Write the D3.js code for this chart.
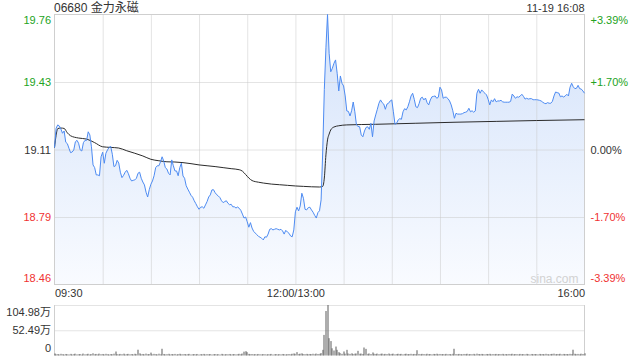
<!DOCTYPE html>
<html>
<head>
<meta charset="utf-8">
<script src="https://cdn.jsdelivr.net/npm/d3@7"></script>
<style>
body { margin: 0; background: #fff; }
text { font-family: "Liberation Sans", Arial, "Noto Sans CJK SC", sans-serif; }
</style>
</head>
<body>
<script>
// minute index: 0 = 09:30, 150 = 12:00/13:00, 330 = 16:00
var title = "06680 金力永磁";
var stamp = "11-19 16:08";
var prevClose = 19.112;

var priceTicks = [19.76, 19.436, 19.112, 18.788, 18.464];
var priceTickLabels = ["19.76", "19.43", "19.11", "18.79", "18.46"];
var pctTickLabels = ["+3.39%", "+1.70%", "0.00%", "-1.70%", "-3.39%"];
var timeTicks = [0, 150, 330];
var timeTickLabels = ["09:30", "12:00/13:00", "16:00"];
var gridMinutes = [30, 60, 90, 120, 150, 180, 210, 240, 270, 300];
var volTicks = [104.98, 52.49, 0];
var volTickLabels = ["104.98万", "52.49万", "0"];

var price = [
 19.121,19.214,19.230,19.225,19.210,19.190,19.201,19.147,19.140,19.118,
 19.097,19.100,19.110,19.149,19.156,19.142,19.110,19.105,19.145,19.156,
 19.156,19.197,19.182,19.125,19.038,19.025,18.990,18.990,18.986,19.077,
 19.099,19.046,19.094,19.110,19.122,19.127,19.089,19.030,19.034,19.060,
 19.047,19.003,18.977,18.988,19.003,19.012,18.996,18.974,18.961,18.964,
 18.966,18.974,18.998,19.003,18.974,18.956,18.942,18.907,18.884,18.919,
 18.945,18.961,18.986,19.025,19.034,19.034,19.053,19.077,19.057,19.025,
 19.018,18.998,18.990,19.062,19.034,19.009,19.009,18.986,19.025,19.046,
 18.985,18.974,18.938,18.922,18.907,18.892,18.883,18.866,18.852,18.837,
 18.825,18.835,18.837,18.830,18.846,18.862,18.884,18.894,18.918,18.919,
 18.905,18.895,18.889,18.881,18.866,18.857,18.862,18.866,18.854,18.847,
 18.849,18.837,18.837,18.831,18.836,18.830,18.820,18.802,18.783,18.788,
 18.765,18.739,18.761,18.735,18.719,18.711,18.703,18.695,18.691,18.686,
 18.678,18.693,18.691,18.706,18.729,18.732,18.726,18.729,18.732,18.729,
 18.726,18.729,18.721,18.706,18.724,18.716,18.710,18.697,18.693,18.726,
 18.813,18.835,18.817,18.841,18.902,18.878,18.825,18.822,18.833,18.835,
 18.822,18.811,18.796,18.783,18.809,18.818,18.870,19.100,19.400,19.600,
 19.760,19.574,19.485,19.502,19.526,19.542,19.478,19.393,19.465,19.430,
 19.417,19.369,19.297,19.295,19.273,19.298,19.340,19.293,19.230,19.223,
 19.221,19.182,19.173,19.201,19.218,19.221,19.209,19.238,19.173,19.249,
 19.278,19.305,19.334,19.350,19.337,19.330,19.305,19.330,19.334,19.345,
 19.350,19.293,19.233,19.238,19.254,19.260,19.257,19.293,19.308,19.302,
 19.317,19.341,19.369,19.382,19.353,19.317,19.313,19.332,19.358,19.363,
 19.350,19.359,19.337,19.326,19.350,19.365,19.367,19.369,19.358,19.363,
 19.411,19.398,19.358,19.363,19.363,19.356,19.345,19.326,19.298,19.262,
 19.286,19.282,19.282,19.282,19.284,19.289,19.291,19.295,19.310,19.293,
 19.298,19.291,19.297,19.382,19.401,19.382,19.398,19.389,19.382,19.374,
 19.353,19.326,19.350,19.341,19.356,19.341,19.345,19.345,19.348,19.341,
 19.339,19.339,19.339,19.339,19.343,19.378,19.369,19.358,19.365,19.363,
 19.369,19.377,19.367,19.354,19.358,19.354,19.356,19.356,19.351,19.351,
 19.351,19.350,19.348,19.345,19.339,19.334,19.332,19.337,19.334,19.334,
 19.343,19.369,19.388,19.385,19.383,19.365,19.369,19.364,19.369,19.377,
 19.369,19.411,19.430,19.413,19.404,19.406,19.420,19.404,19.402,19.393,
 19.382
];

var avgMinute = [0,1,2,4,6,8,10,15,20,25,30,35,40,45,50,55,60,65,70,75,80,85,90,95,100,105,110,
 115,117,119,121,123,127,130,135,140,145,150,155,160,165,167,168,169,170,171,172,174,177,182,
 200,225,250,275,300,330];
var avgPrice = [19.121,19.180,19.212,19.215,19.213,19.192,19.178,19.167,19.162,19.145,19.125,19.122,
 19.119,19.106,19.094,19.081,19.065,19.058,19.053,19.052,19.049,19.044,19.038,19.034,19.030,19.025,
 19.020,19.015,19.008,18.992,18.975,18.963,18.955,18.951,18.946,18.943,18.940,18.937,18.935,18.933,
 18.932,18.935,18.975,19.086,19.158,19.186,19.206,19.220,19.226,19.230,19.233,19.238,19.243,19.247,
 19.251,19.255];

// volume, 万 shares per minute
var volume = [
 4.2,2.5,3.0,2.2,3.5,2.8,2.0,3.2,2.6,2.3,
 3.4,2.1,2.9,3.8,2.4,2.7,3.1,2.0,4.0,2.5,
 2.8,3.6,2.2,3.0,4.5,2.6,3.3,2.4,3.9,2.7,
 3.2,2.3,3.5,2.8,2.1,3.0,2.6,3.7,8.3,2.9,
 2.4,3.3,2.7,3.8,2.2,2.9,3.4,2.5,3.1,2.3,
 3.6,2.8,12.0,4.5,2.6,3.2,2.4,3.9,2.7,3.0,
 6.0,2.5,3.4,2.9,2.3,3.7,2.6,14.0,3.2,2.4,
 2.8,3.5,2.2,3.0,2.6,3.3,2.1,2.9,3.6,2.5,
 2.7,3.1,2.3,2.8,3.4,2.2,2.6,3.0,2.4,3.2,
 2.1,2.8,2.5,3.3,2.3,2.9,2.6,3.1,2.2,2.7,
 3.0,2.4,2.8,2.1,3.4,2.5,2.3,2.9,2.6,3.2,
 2.2,2.7,3.0,2.4,2.8,3.5,2.6,4.0,8.0,9.0,
 7.0,3.4,2.8,3.1,2.5,2.9,2.3,3.2,2.6,2.4,
 3.0,2.7,2.2,2.8,2.5,3.3,2.1,2.6,3.0,2.3,
 2.9,2.4,3.2,2.6,2.2,2.8,3.1,2.5,3.6,4.2,
 3.5,7.0,3.0,3.8,4.5,3.1,2.8,3.4,2.6,3.2,
 2.9,3.6,2.7,4.0,3.2,3.5,5.0,11.8,42.8,92.5,
 104.98,36.0,30.0,15.0,10.4,18.6,11.8,7.0,5.0,3.5,
 8.4,3.8,11.8,4.2,3.4,4.6,3.0,3.8,4.1,9.7,
 3.6,4.0,3.2,16.6,13.8,3.4,4.2,3.0,6.3,3.6,
 3.2,4.0,2.8,3.5,3.9,2.6,3.4,3.0,4.1,2.7,
 3.3,3.8,2.5,3.1,3.6,2.9,3.4,2.4,3.2,3.7,
 2.8,3.0,3.5,2.6,3.3,2.9,11.0,3.2,2.7,3.4,
 3.0,2.5,3.6,2.8,3.1,2.4,3.3,2.9,3.7,2.6,
 3.2,2.8,3.0,2.5,3.4,2.7,3.1,2.3,3.5,14.0,
 3.0,2.6,3.3,2.8,2.4,3.2,2.9,3.6,2.5,3.0,
 2.7,3.4,2.3,3.8,3.1,2.6,3.3,2.8,2.5,3.2,
 2.9,3.5,2.4,3.0,2.7,3.3,2.5,3.1,2.8,3.4,
 2.3,3.0,2.6,3.2,2.8,3.6,2.5,3.1,2.9,2.4,
 3.3,2.7,3.0,2.5,3.4,2.8,2.3,3.2,2.6,3.0,
 2.9,2.4,3.3,2.7,3.1,2.5,3.5,2.8,2.3,3.0,
 3.4,3.8,2.6,3.2,2.9,3.6,2.5,3.3,2.8,3.1,
 2.7,3.4,3.0,12.0,3.6,2.8,3.3,2.5,3.8,3.2,
 4.5
];

var plotLeft = 54.5, plotRight = 584.5, plotTop = 14.5, plotBottom = 284.5;
var volTop = 305, volBottom = 355.5;
var green = "#22a322", red = "#f03232", dark = "#333";
var tickColors = [green, green, dark, red, red];

var x = d3.scaleLinear().domain([0, 330]).range([plotLeft, plotRight]);
var y = d3.scaleLinear().domain([priceTicks[4], priceTicks[0]]).range([plotBottom, plotTop]);
var yVol = d3.scaleLinear().domain([0, volTicks[0]]).range([volBottom, volTop]);

var svg = d3.select("body").append("svg")
        .attr("width", 640)
        .attr("height", 360);

var grad = svg.append("defs").append("linearGradient")
        .attr("id", "fillGrad")
        .attr("gradientUnits", "userSpaceOnUse")
        .attr("x1", 0).attr("x2", 0)
        .attr("y1", plotTop).attr("y2", plotBottom);
grad.append("stop").attr("offset", 0).attr("stop-color", "#d3e2fa");
grad.append("stop").attr("offset", 1).attr("stop-color", "#f9fbff");

// area under the price line
var area = d3.area()
        .x(function(d, i) { return x(i); })
        .y0(plotBottom)
        .y1(function(d) { return y(d); });
svg.append("path")
        .datum(price)
        .attr("fill", "url(#fillGrad)")
        .attr("d", area);

// grids
function dotted(g) {
    g.select(".domain").remove();
    g.selectAll(".tick line")
        .attr("stroke", "#c8c8c8")
        .attr("stroke-dasharray", "1,1");
}
svg.append("g")
        .attr("transform", "translate(" + plotLeft + ",0)")
        .call(d3.axisLeft(y).tickValues(priceTicks.slice(1, 4)).tickSize(-(plotRight - plotLeft)).tickFormat(""))
        .call(dotted);
svg.append("g")
        .attr("transform", "translate(0," + plotBottom + ")")
        .call(d3.axisBottom(x).tickValues(gridMinutes).tickSize(-(plotBottom - plotTop)).tickFormat(""))
        .call(dotted);
svg.append("g")
        .attr("transform", "translate(" + plotLeft + ",0)")
        .call(d3.axisLeft(yVol).tickValues(volTicks.slice(0, 2)).tickSize(-(plotRight - plotLeft)).tickFormat(""))
        .call(dotted);

// frames
svg.append("rect")
        .attr("x", plotLeft).attr("y", plotTop)
        .attr("width", plotRight - plotLeft).attr("height", plotBottom - plotTop)
        .attr("fill", "none").attr("stroke", "#cfcfcf");
svg.selectAll("line.vframe")
        .data([plotLeft, plotRight])
        .enter().append("line")
        .attr("class", "vframe")
        .attr("x1", function(d) { return d; }).attr("x2", function(d) { return d; })
        .attr("y1", volTop).attr("y2", volBottom)
        .attr("stroke", "#cfcfcf");

svg.append("text")
        .attr("x", plotRight - 6).attr("y", 283)
        .attr("text-anchor", "end")
        .attr("font-size", 12)
        .attr("fill", "#d2d2d2")
        .text("sina.com");

// average line
svg.append("path")
        .datum(avgMinute)
        .attr("fill", "none")
        .attr("stroke", "#2b2b2b")
        .attr("stroke-width", 1)
        .attr("d", d3.line()
            .curve(d3.curveMonotoneX)
            .x(function(d) { return x(d); })
            .y(function(d, i) { return y(avgPrice[i]); }));

// price line
svg.append("path")
        .datum(price)
        .attr("fill", "none")
        .attr("stroke", "#4d8bf2")
        .attr("stroke-width", 1)
        .attr("d", d3.line()
            .x(function(d, i) { return x(i); })
            .y(function(d) { return y(d); }));

// volume bars
svg.selectAll("rect.vol")
        .data(volume)
        .enter().append("rect")
        .attr("class", "vol")
        .attr("x", function(d, i) { return Math.round(x(i)) - 0.5; })
        .attr("width", 1)
        .attr("y", function(d) { return yVol(d); })
        .attr("height", function(d) { return volBottom - yVol(d); })
        .attr("fill", "#5c5c5c");

// axis labels
function labels(g, colors, dys) {
    g.select(".domain").remove();
    g.selectAll(".tick line").remove();
    g.selectAll(".tick text")
        .attr("font-size", 11)
        .attr("font-family", null)
        .attr("fill", function(d, i) { return colors[i]; })
        .attr("dy", function(d, i) { return dys[i]; });
}
var priceDy = ["0.82em", "0.32em", "0.32em", "0.32em", "-0.27em"];
svg.append("g")
        .attr("transform", "translate(" + plotLeft + ",0)")
        .call(d3.axisLeft(y).tickValues(priceTicks).tickSize(0).tickPadding(3.5)
            .tickFormat(function(d, i) { return priceTickLabels[i]; }))
        .call(labels, tickColors, priceDy);
svg.append("g")
        .attr("transform", "translate(" + plotRight + ",0)")
        .call(d3.axisRight(y).tickValues(priceTicks).tickSize(0).tickPadding(6)
            .tickFormat(function(d, i) { return pctTickLabels[i]; }))
        .call(labels, tickColors, priceDy);
svg.append("g")
        .attr("transform", "translate(" + plotLeft + ",0)")
        .call(d3.axisLeft(yVol).tickValues(volTicks).tickSize(0).tickPadding(3.5)
            .tickFormat(function(d, i) { return volTickLabels[i]; }))
        .call(labels, [dark, dark, dark], ["0.95em", "0.32em", "-0.34em"]);
var xLab = svg.append("g")
        .attr("transform", "translate(0," + plotBottom + ")")
        .call(d3.axisBottom(x).tickValues(timeTicks).tickSize(0).tickPadding(4.5)
            .tickFormat(function(d, i) { return timeTickLabels[i]; }))
        .call(labels, [dark, dark, dark], ["0.71em", "0.71em", "0.71em"]);
xLab.selectAll(".tick text")
        .attr("text-anchor", function(d, i) { return i == 0 ? "start" : (i == 2 ? "end" : "middle"); });

// header
svg.append("text")
        .attr("x", plotLeft - 0.5).attr("y", 12)
        .attr("font-size", 12)
        .attr("fill", dark)
        .text(title);
svg.append("text")
        .attr("x", plotRight).attr("y", 12)
        .attr("text-anchor", "end")
        .attr("font-size", 11)
        .attr("fill", dark)
        .text(stamp);
</script>
</body>
</html>
